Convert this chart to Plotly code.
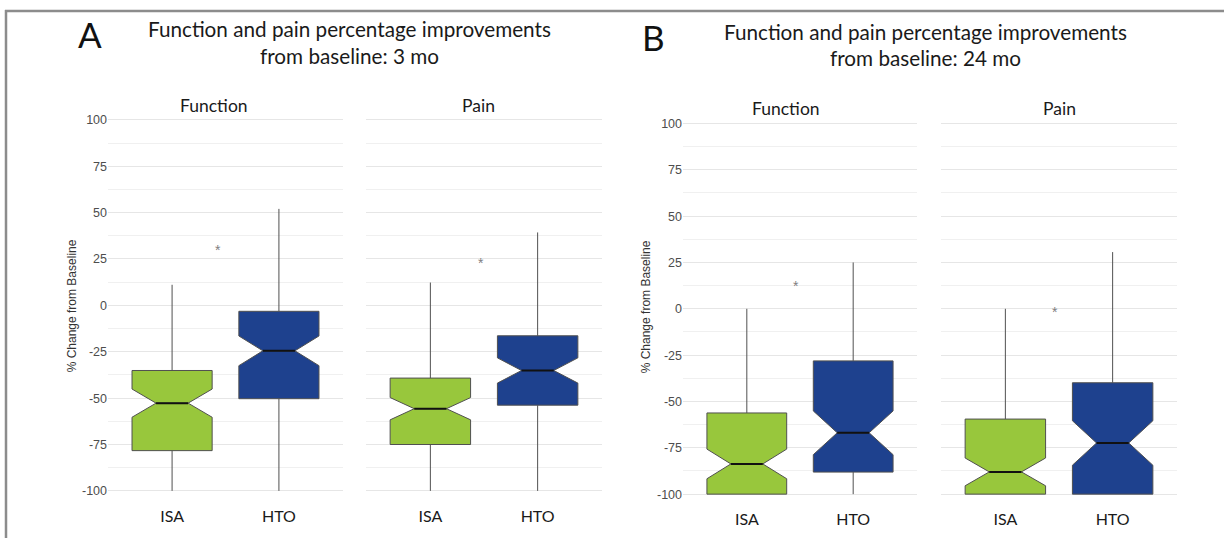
import plotly.graph_objects as go

W, H = 1224, 543

groups = ["ISA", "HTO"]
group_colors = ["#98C73C", "#1E418E"]
y_ticks = [100, 75, 50, 25, 0, -25, -50, -75, -100]
y_tick_labels = ["100", "75", "50", "25", "0", "-25", "-50", "-75", "-100"]

# Box statistics per panel, ordered [ISA, HTO]
# 3 months - Function
m3_func_lower = [-100, -100]
m3_func_q1 = [-78.3, -50.3]
m3_func_median = [-52.7, -24.5]
m3_func_q3 = [-35.1, -3.2]
m3_func_upper = [11.1, 52.0]
m3_func_notch = [7.6, 8.0]

# 3 months - Pain
m3_pain_lower = [-100, -100]
m3_pain_q1 = [-75.0, -53.8]
m3_pain_median = [-55.7, -35.1]
m3_pain_q3 = [-39.2, -16.4]
m3_pain_upper = [12.3, 39.3]
m3_pain_notch = [6.0, 6.8]

# 24 months - Function
m24_func_lower = [-100, -100]
m24_func_q1 = [-100, -88.1]
m24_func_median = [-83.7, -66.9]
m24_func_q3 = [-56.2, -28.1]
m24_func_upper = [0, 25]
m24_func_notch = [8.0, 11.8]

# 24 months - Pain
m24_pain_lower = [-100, -100]
m24_pain_q1 = [-100, -100]
m24_pain_median = [-88.0, -72.4]
m24_pain_q3 = [-59.5, -39.9]
m24_pain_upper = [0, 30.6]
m24_pain_notch = [7.5, 12.0]

# Significance markers (x between groups, y value)
star_x = [0.43, 0.47, 0.46, 0.46]
star_y = [31.4, 24.3, 13.9, 0.0]

panels = [
    ("x", "y", m3_func_lower, m3_func_q1, m3_func_median, m3_func_q3, m3_func_upper, m3_func_notch),
    ("x2", "y2", m3_pain_lower, m3_pain_q1, m3_pain_median, m3_pain_q3, m3_pain_upper, m3_pain_notch),
    ("x3", "y3", m24_func_lower, m24_func_q1, m24_func_median, m24_func_q3, m24_func_upper, m24_func_notch),
    ("x4", "y4", m24_pain_lower, m24_pain_q1, m24_pain_median, m24_pain_q3, m24_pain_upper, m24_pain_notch),
]

BOX_W = 0.75
NOTCH_W = 0.3

fig = go.Figure()
shapes = []
for xa, ya, lo, q1, med, q3, hi, notch in panels:
    for i, g in enumerate(groups):
        fig.add_trace(go.Box(
            x=[i], lowerfence=[lo[i]], q1=[q1[i]], median=[med[i]], q3=[q3[i]],
            upperfence=[hi[i]], notchspan=[notch[i]], notched=True, notchwidth=NOTCH_W,
            width=BOX_W, whiskerwidth=0, boxpoints=False,
            fillcolor=group_colors[i], line=dict(color="#505050", width=1),
            xaxis=xa, yaxis=ya, showlegend=False, hoverinfo="skip",
        ))
        # thicker median bar across the narrow part of the notch
        half = BOX_W * (0.5 - NOTCH_W)
        shapes.append(dict(type="line", xref=xa, yref=ya, x0=i - half, x1=i + half,
                           y0=med[i], y1=med[i], line=dict(color="#111111", width=2)))


def fx(px):
    return px / W


def fy(py):
    return 1 - py / H


tick_font = dict(family="Liberation Sans, Arial, sans-serif", size=12.5, color="#4D4D4D")
cat_font = dict(family="Lato, sans-serif", size=16, color="#1a1a1a")


def xaxis(x0, x1):
    return dict(domain=[fx(x0), fx(x1)], range=[-0.6, 1.6], tickvals=[0, 1], ticktext=groups,
                showgrid=False, zeroline=False, showline=False, ticks="", ticklabelstandoff=12,
                tickfont=cat_font, fixedrange=True)


def yaxis(top, bottom, anchor, labels):
    return dict(domain=[fy(bottom), fy(top)], range=[-101, 101], tickvals=y_ticks,
                ticktext=y_tick_labels, showticklabels=labels, tickfont=tick_font, ticks="",
                showline=False, zeroline=False, gridcolor="#E6E6E6", gridwidth=1,
                minor=dict(dtick=12.5, tick0=12.5, showgrid=True, gridcolor="#F0F0F0", gridwidth=1),
                anchor=anchor, fixedrange=True)


layout = dict(
    width=W, height=H, margin=dict(l=0, r=0, t=0, b=0),
    paper_bgcolor="white", plot_bgcolor="white", boxmode="overlay",
    xaxis=xaxis(108, 343) | dict(anchor="y"),
    xaxis2=xaxis(366, 602) | dict(anchor="y2"),
    xaxis3=xaxis(683, 917) | dict(anchor="y3"),
    xaxis4=xaxis(941, 1177) | dict(anchor="y4"),
    yaxis=yaxis(115.1, 496.9, "x", True),
    yaxis2=yaxis(115.1, 496.9, "x2", False),
    yaxis3=yaxis(118.8, 500.2, "x3", True),
    yaxis4=yaxis(118.8, 500.2, "x4", False),
)

title_font = dict(family="Lato, sans-serif", size=20.7, color="#1a1a1a")
letter_font = dict(family="Lato, sans-serif", size=35, color="#111111")
strip_font = dict(family="Lato, sans-serif", size=17.5, color="#1a1a1a")
ytitle_font = dict(family="Liberation Sans, Arial, sans-serif", size=12, color="#333333")

annotations = []


def text(x, y, s, font, **kw):
    annotations.append(dict(x=fx(x), y=fy(y), xref="paper", yref="paper", text=s,
                            showarrow=False, font=font, xanchor="center", yanchor="middle", **kw))


text(90, 29.5, "A", letter_font)
text(653, 32.5, "B", letter_font)
text(349, 24, "Function and pain percentage improvements", title_font)
text(349, 52, "from baseline: 3 mo", title_font)
text(925, 27, "Function and pain percentage improvements", title_font)
text(925, 54, "from baseline: 24 mo", title_font)
text(214, 102.5, "Function", strip_font)
text(478, 102.5, "Pain", strip_font)
text(786, 105.5, "Function", strip_font)
text(1059, 105.5, "Pain", strip_font)
text(72, 307, "% Change from Baseline", ytitle_font, textangle=-90)
text(646, 308, "% Change from Baseline", ytitle_font, textangle=-90)

for k, (xa, ya) in enumerate([("x", "y"), ("x2", "y2"), ("x3", "y3"), ("x4", "y4")]):
    annotations.append(dict(x=star_x[k], y=star_y[k], xref=xa, yref=ya, text="*",
                            showarrow=False, yshift=-3,
                            font=dict(family="Liberation Sans, Arial, sans-serif", size=14, color="#808080")))

# outer frame (top and left edges)
shapes.append(dict(type="line", xref="paper", yref="paper", x0=fx(5), x1=1, y0=fy(6), y1=fy(6),
                   line=dict(color="#8C8C8C", width=2.5)))
shapes.append(dict(type="line", xref="paper", yref="paper", x0=fx(6), x1=fx(6), y0=fy(5), y1=0,
                   line=dict(color="#8C8C8C", width=2.5)))

layout["shapes"] = shapes
layout["annotations"] = annotations
fig.update_layout(**layout)
fig.write_html("out.html")
